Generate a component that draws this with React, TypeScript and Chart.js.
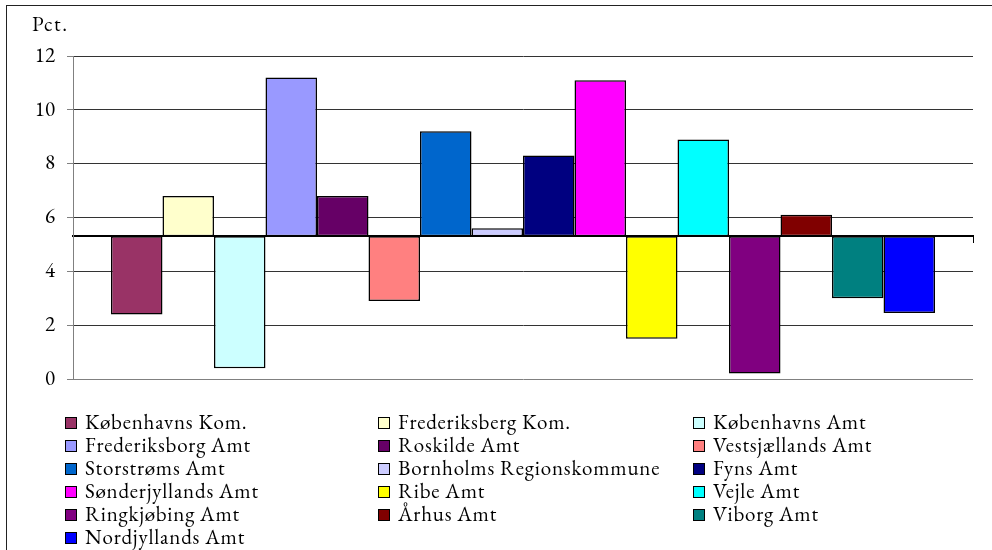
import React, { useEffect, useRef } from 'react';
import { Chart, registerables } from 'chart.js';
Chart.register(...registerables);

const regions = [
  'Københavns Kom.', 'Frederiksberg Kom.', 'Københavns Amt',
  'Frederiksborg Amt', 'Roskilde Amt', 'Vestsjællands Amt',
  'Storstrøms Amt', 'Bornholms Regionskommune', 'Fyns Amt',
  'Sønderjyllands Amt', 'Ribe Amt', 'Vejle Amt',
  'Ringkjøbing Amt', 'Århus Amt', 'Viborg Amt',
  'Nordjyllands Amt',
];
const values = [2.4, 6.8, 0.4, 11.2, 6.8, 2.9, 9.2, 5.6, 8.3, 11.1, 1.5, 8.9, 0.2, 6.1, 3.0, 2.45];
const colors = [
  '#993366', '#FFFFCC', '#CCFFFF', '#9999FF', '#660066', '#FF8080',
  '#0066CC', '#CCCCFF', '#000080', '#FF00FF', '#FFFF00', '#00FFFF',
  '#800080', '#800000', '#008080', '#0000FF',
];
const BASE = 5.3;
const Y_MIN = 0;
const Y_MAX = 12;
const Y_STEP = 2;
const yTitle = 'Pct.';

const FONT = "'EB Garamond', 'Liberation Serif', serif";

export default function App() {
  const ref = useRef<HTMLCanvasElement>(null);
  useEffect(() => {
    const chart = new Chart(ref.current!, {
      type: 'bar',
      data: {
        labels: [''],
        datasets: regions.map((r, i) => ({
          label: r,
          data: [[BASE, values[i]]] as any,
          backgroundColor: colors[i],
          borderColor: '#000',
          borderWidth: 1.5,
          borderSkipped: false,
          categoryPercentage: 0.9156,
          barPercentage: 1,
        })),
      },
      options: {
        responsive: false,
        animation: false,
        layout: { padding: { left: 0, top: 56, right: 19, bottom: 171 } },
        plugins: { legend: { display: false }, tooltip: { enabled: false } },
        scales: {
          x: {
            position: { y: BASE } as any,
            ticks: { display: false },
            grid: {
              display: true,
              drawOnChartArea: false,
              drawTicks: true,
              tickLength: 6,
              offset: true,
              color: '#000',
              lineWidth: 1,
            },
            border: { display: true, color: '#000', width: 2 },
          },
          y: {
            min: Y_MIN,
            max: Y_MAX,
            afterFit: (s: any) => { s.width = 73; },
            ticks: {
              stepSize: Y_STEP,
              color: '#000',
              padding: 12,
              font: { family: FONT, size: 21 },
            },
            grid: {
              color: (ctx: any) => (ctx.tick && ctx.tick.value === 0 ? '#808080' : '#333'),
              tickColor: '#808080',
              tickLength: 6,
              lineWidth: 1,
            },
            border: { color: '#808080', width: 1 },
          },
        },
      },
    });
    return () => chart.destroy();
  }, []);

  const textStyle: React.CSSProperties = {
    fontFamily: FONT,
    fontSize: 21,
    letterSpacing: '0.8px',
    fontVariantNumeric: 'lining-nums',
    color: '#000',
  };

  return (
    <div style={{ position: 'absolute', left: 0, top: 0, width: 992, height: 550, overflow: 'hidden', background: '#fff' }}>
      <div style={{ position: 'absolute', left: 6, top: 5, width: 1100, height: 700, border: '1px solid #222' }} />
      <canvas ref={ref} width={992} height={550} style={{ position: 'absolute', left: 0, top: 0 }} />
      <div style={{ ...textStyle, letterSpacing: '1.5px', position: 'absolute', left: 32, top: 14, lineHeight: '20px' }}>{yTitle}</div>
      <div style={{ ...textStyle, position: 'absolute', left: 65, top: 410, display: 'grid', gridTemplateColumns: '313px 315px 290px' }}>
        {regions.map((r, i) => (
          <div key={r} style={{ height: 23, lineHeight: '23px', display: 'flex', alignItems: 'center', whiteSpace: 'nowrap' }}>
            <span style={{ display: 'inline-block', width: 10, height: 10, border: '1px solid #000', background: colors[i], marginRight: 8, position: 'relative', top: 1, flex: 'none' }} />
            <span>{r}</span>
          </div>
        ))}
      </div>
    </div>
  );
}
